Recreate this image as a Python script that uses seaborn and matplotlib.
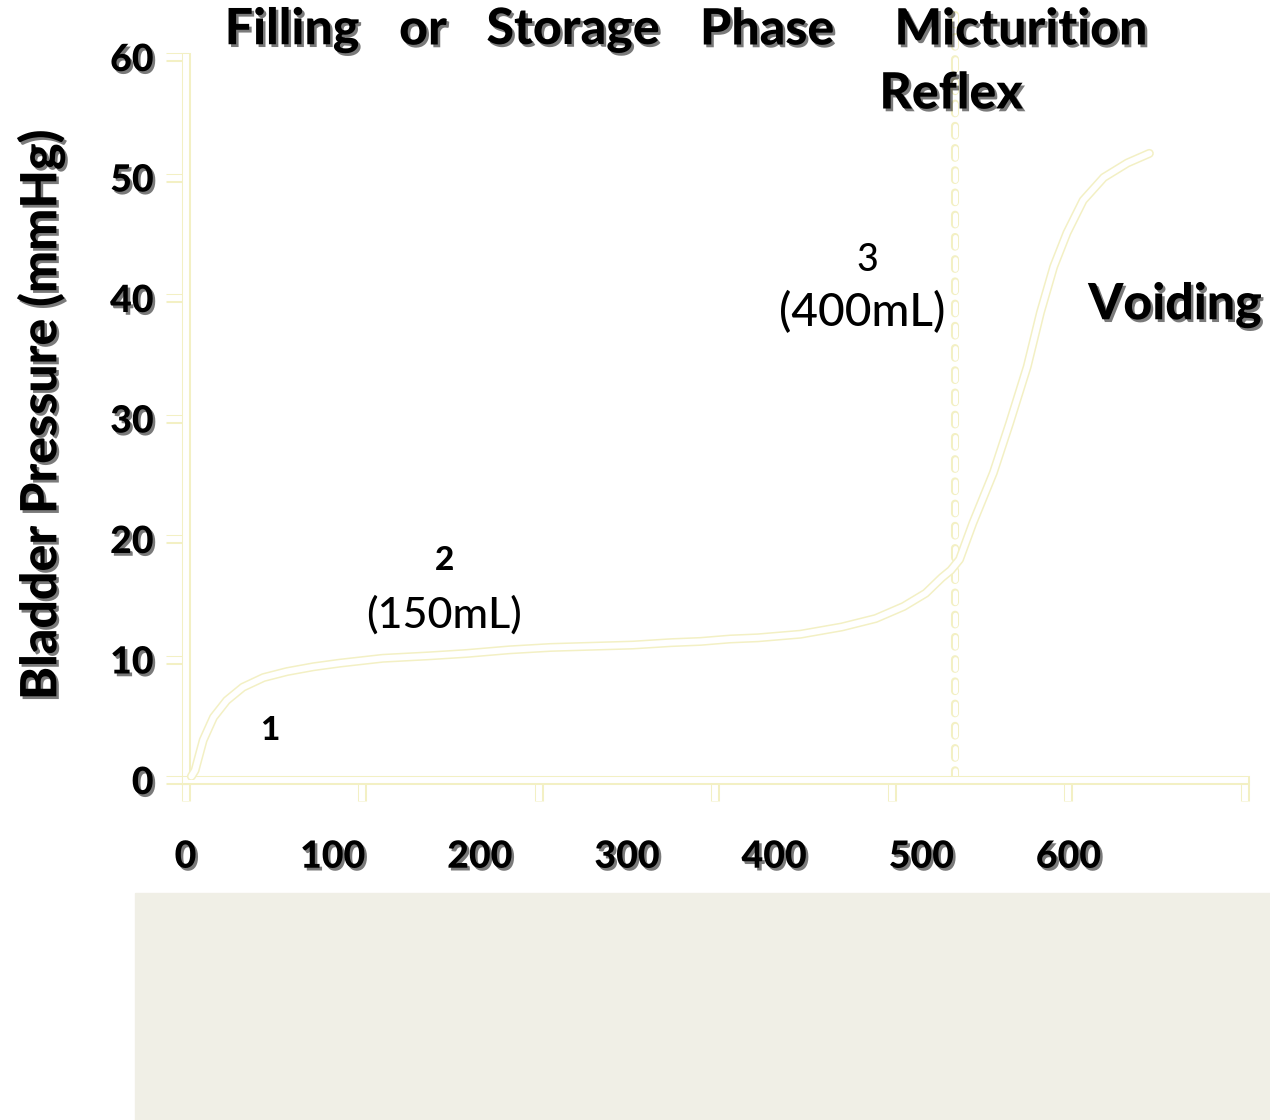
import matplotlib
matplotlib.use("Agg")
import matplotlib.pyplot as plt
import matplotlib.patheffects as pe
from matplotlib.patches import Rectangle
import seaborn as sns
import pandas as pd

# --- data ---
volume_ml = [4, 6.5, 12, 19, 28, 39, 53, 69, 87, 105, 134, 165, 191, 220, 248, 276,
             304, 330, 350, 370, 389, 418, 446, 469, 488, 503, 514, 520, 526, 535,
             549, 560, 572, 581, 590, 599, 610, 624, 640, 655]
pressure_mmhg = [0.3, 0.8, 3.3, 5.2, 6.6, 7.7, 8.5, 9.0, 9.4, 9.7, 10.1, 10.3, 10.5,
                 10.8, 11.0, 11.1, 11.2, 11.4, 11.5, 11.7, 11.8, 12.1, 12.7, 13.4, 14.4,
                 15.5, 16.8, 17.4, 18.3, 21.3, 25.5, 29.6, 34.3, 38.8, 42.6, 45.4, 48.1,
                 50.0, 51.2, 52.0]
reflex_volume = 523
x_tick_marks = [0, 120, 240, 360, 480, 600, 720]
x_tick_labels = [0, 100, 200, 300, 400, 500, 600]
y_ticks = [0, 10, 20, 30, 40, 50, 60]

df = pd.DataFrame({"volume": volume_ml, "pressure": pressure_mmhg})

sns.set_style("white")
plt.rcParams["font.family"] = ["Lato", "DejaVu Sans"]
plt.rcParams["lines.scale_dashes"] = False
plt.rcParams["text.color"] = "black"

W, H = 1270, 1120
pale = "#f3f0c4"


def px(x, y):
    return x / W, 1 - y / H


outline = [pe.Stroke(linewidth=6.5, foreground=pale), pe.Normal()]
shadow = [pe.SimplePatchShadow(offset=(1.8, -2.0), shadow_rgbFace="#222222", alpha=0.6),
          pe.Normal()]

fig = plt.figure(figsize=(12.7, 11.2), dpi=100)
fig.add_artist(Rectangle((135 / W, 0), (W - 135) / W, (H - 893) / H,
                         transform=fig.transFigure, color="#f0efe6", zorder=0))

ax = fig.add_axes([185.5 / W, 1 - 780 / H, (1245 - 185.5) / W, (780 - 57) / H])
ax.patch.set_alpha(0)

# --- the pressure curve (outlined, pale) ---
sns.lineplot(data=df, x="volume", y="pressure", ax=ax, color="white", linewidth=4.3,
             solid_joinstyle="round", solid_capstyle="round",
             path_effects=outline, zorder=3)

# micturition reflex threshold
ax.axvline(reflex_volume, ymin=0, ymax=1.058, color="white", linewidth=3.6,
           linestyle=(0, (7, 9)), dash_capstyle="round", clip_on=False,
           path_effects=[pe.Stroke(linewidth=5.8, foreground=pale), pe.Normal()], zorder=2)

ax.set_xlim(0, 720)
ax.set_ylim(0, 60)

# --- axes drawn as pale outlined strokes ---
for side in ["top", "right"]:
    ax.spines[side].set_visible(False)
for side in ["left", "bottom"]:
    ax.spines[side].set_color("white")
    ax.spines[side].set_linewidth(4.3)
    ax.spines[side].set_path_effects(outline)

ax.xaxis.remove_overlapping_locs = False
ax.set_xticks(x_tick_marks)
ax.set_xticklabels([])
ax.set_xticks(x_tick_labels, minor=True)
ax.set_xticklabels([str(v) for v in x_tick_labels], minor=True)
ax.set_yticks(y_ticks)
ax.set_yticklabels([str(v) for v in y_ticks])

ax.tick_params(axis="x", which="major", direction="out", length=15, width=4.3,
               color="white", bottom=True)
ax.tick_params(axis="x", which="minor", length=0, pad=43, labelsize=27,
               labelcolor="black")
ax.tick_params(axis="y", which="major", direction="out", length=14, width=4.3,
               color="white", left=True, pad=9, labelsize=27, labelcolor="black")

for t in ax.xaxis.get_major_ticks() + ax.yaxis.get_major_ticks():
    t.tick1line.set_path_effects(outline)
for lab in ax.get_xticklabels(minor=True) + ax.get_yticklabels():
    lab.set_fontweight("black")
    lab.set_path_effects(shadow)
ax.set_xlabel("")
ax.set_ylabel("")

# --- headings and annotations ---
big = dict(fontsize=36, fontweight="black", color="black", ha="center", va="center",
           path_effects=shadow)
for word, xc in [("Filling", 292), ("or", 423), ("Storage", 573), ("Phase", 767)]:
    fig.text(*px(xc, 30), word, **big)
fig.text(*px(1021, 30), "Micturition", **big)
fig.text(*px(951, 94), "Reflex", **big)
fig.text(*px(1175, 305), "Voiding", **big)
fig.text(*px(41, 415), "Bladder Pressure (mmHg)", rotation=90, **big)

small = dict(color="black", ha="center", va="center")
fig.text(*px(270, 730), "1", fontsize=24, fontweight="black", **small)
fig.text(*px(444, 560), "2", fontsize=24, fontweight="black", **small)
fig.text(*px(444, 615), "(150mL)", fontsize=31, fontweight="medium", **small)
fig.text(*px(867, 260), "3", fontsize=27, fontweight="medium", **small)
fig.text(*px(862, 312), "(400mL)", fontsize=33, fontweight="medium", **small)

fig.savefig("out.png", dpi=100)
